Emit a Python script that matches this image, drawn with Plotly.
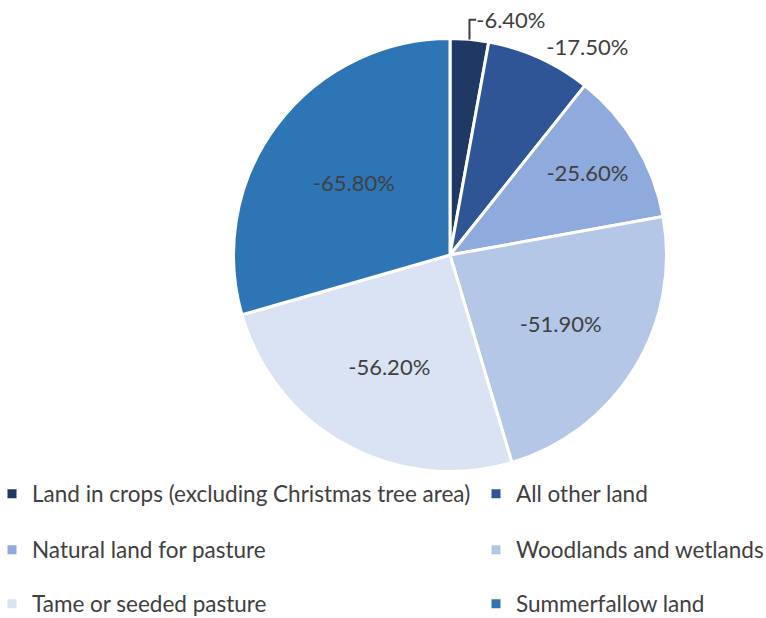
import plotly.graph_objects as go

categories = [
    "Land in crops (excluding Christmas tree area)",
    "All other land",
    "Natural land for pasture",
    "Woodlands and wetlands",
    "Tame or seeded pasture",
    "Summerfallow land",
]
change_pct = [-6.40, -17.50, -25.60, -51.90, -56.20, -65.80]
colors = ["#203864", "#2F5597", "#8FAADC", "#B4C7E7", "#DAE3F3", "#2E75B6"]
text_pos = ["outside", "outside", "inside", "inside", "inside", "inside"]

W, H = 766, 618
FONT = "Lato"
TXT = "#404040"

fig = go.Figure()
fig.add_trace(go.Pie(
    labels=categories,
    values=[abs(v) for v in change_pct],
    customdata=change_pct,
    texttemplate="%{customdata:.2f}%",
    textposition=text_pos,
    insidetextorientation="horizontal",
    textfont=dict(family=FONT, size=22, color=TXT),
    marker=dict(colors=colors, line=dict(color="white", width=3)),
    sort=False,
    direction="clockwise",
    rotation=0,
    showlegend=False,
    hoverinfo="label+text",
    domain=dict(x=[233.5 / W, 666.5 / W], y=[1 - 471.5 / H, 1 - 38.5 / H]),
))

# legend entries: 2 columns x 3 rows, one legend per entry
col_x = [0, 476]
col_indent = [-8, 0]
row_y = [494, 550, 604]
layout_legends = {}
for i, (cat, col) in enumerate(zip(categories, colors)):
    name = "legend" if i == 0 else f"legend{i + 1}"
    fig.add_trace(go.Scatter(
        x=[None], y=[None], mode="markers", name=cat,
        marker=dict(symbol="square", size=9, color=col),
        legend=name, hoverinfo="skip",
    ))
    layout_legends[name] = dict(
        xref="container", yref="container",
        x=col_x[i % 2] / W, xanchor="left",
        y=1 - row_y[i // 2] / H, yanchor="middle",
        indentation=col_indent[i % 2],
        font=dict(family=FONT, size=22.5, color=TXT),
        bgcolor="rgba(0,0,0,0)", itemclick=False, itemdoubleclick=False,
    )

fig.update_layout(
    width=W, height=H,
    margin=dict(l=0, r=0, t=0, b=0, autoexpand=False),
    paper_bgcolor="white", plot_bgcolor="white",
    xaxis=dict(visible=False), yaxis=dict(visible=False),
    font=dict(family=FONT, color=TXT),
    **layout_legends,
)

fig.write_html("out.html")
